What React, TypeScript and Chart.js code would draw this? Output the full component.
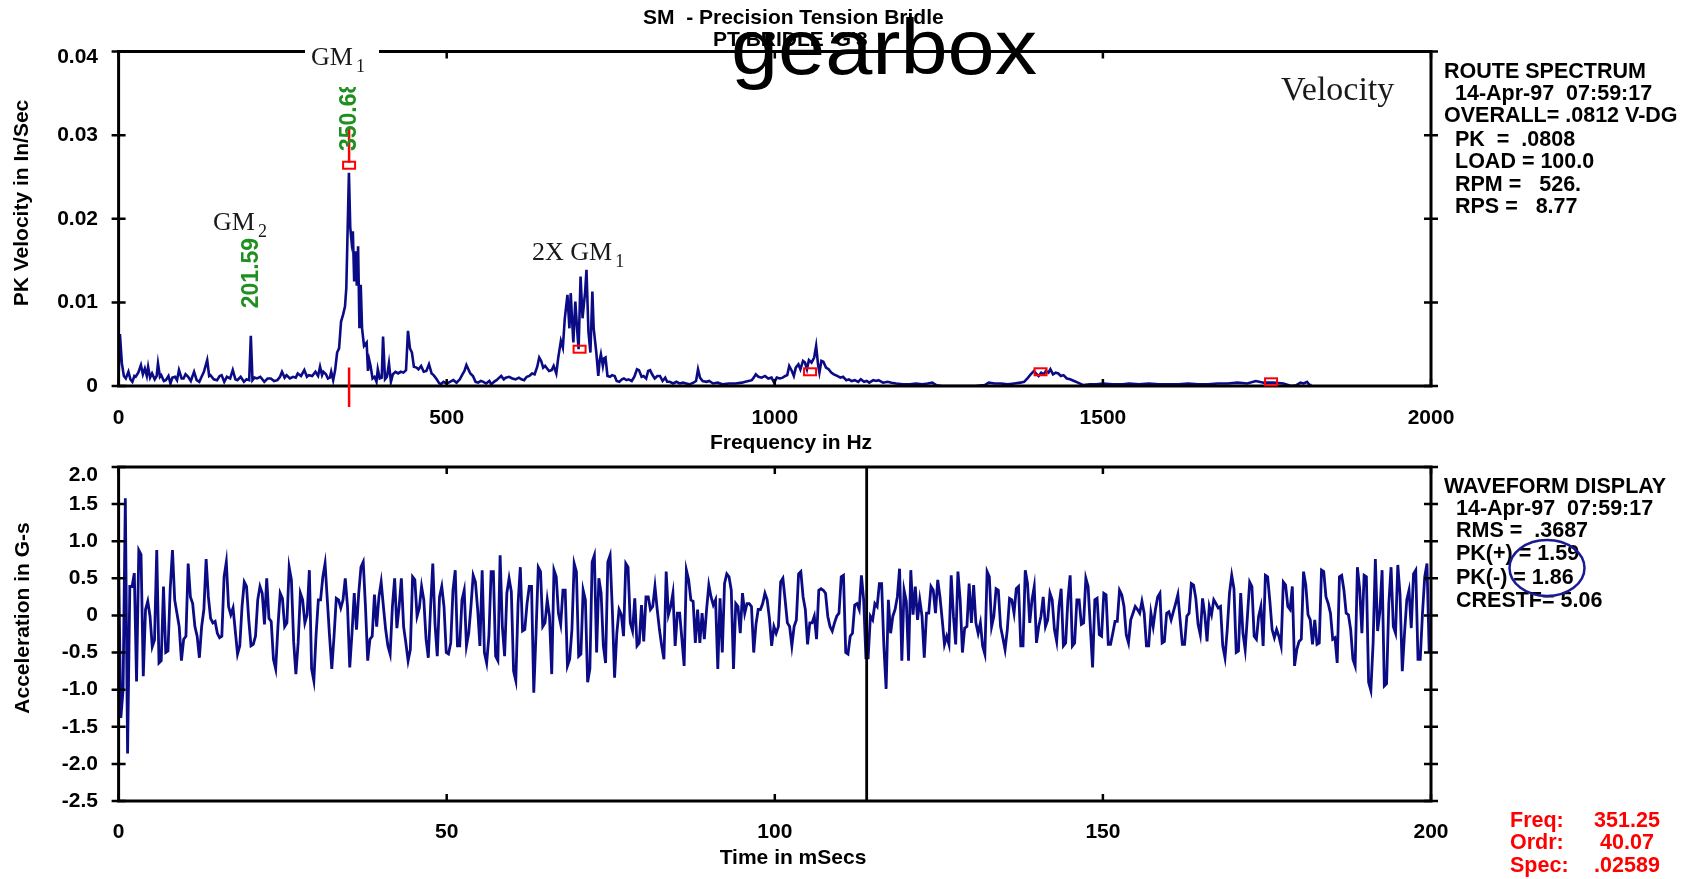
import React, { useEffect, useRef } from 'react';
import { Chart, registerables } from 'chart.js';
Chart.register(...registerables);

// ---------------- data ----------------
const SPEC_FREQ = [
  0, 2, 5, 8, 11, 15, 18, 21, 24, 26, 30, 34, 37, 40, 43, 45, 48, 51, 55, 58,
  60, 63, 65, 69, 72, 76, 79, 82, 86, 89, 92, 96, 99, 102, 106, 110, 115, 119, 123, 127,
  130, 135, 138, 140, 145, 150, 154, 157, 161, 165, 170, 174, 178, 181, 186, 191, 195, 199, 201.5, 204,
  207, 211, 216, 222, 227, 232, 237, 242, 246, 249, 253, 256, 261, 266, 270, 273, 278, 283, 287, 290,
  295, 300, 304, 307, 310, 312, 316, 319, 322, 324, 327, 330, 333, 336, 339, 342, 345, 347, 351, 353,
  355, 357, 359, 361, 363, 365, 367, 369, 371, 374, 376, 378, 380, 382, 384, 387, 390, 393, 395, 398,
  401, 403, 406, 409, 412, 415, 418, 422, 426, 430, 434, 438, 441, 444, 447, 450, 454, 457, 461, 465,
  469, 473, 477, 480, 484, 488, 491, 495, 500, 505, 510, 515, 520, 524, 527, 530, 533, 536, 540, 544,
  548, 552, 556, 560, 565, 568, 572, 576, 580, 583, 587, 590, 595, 600, 605, 610, 614, 618, 622, 626,
  630, 634, 638, 641, 644, 647, 650, 653, 656, 660, 663, 667, 670, 674, 677, 680, 684, 687, 689, 691,
  693, 696, 699, 701, 704, 707, 711, 713, 716, 719, 722, 724, 728, 731, 733, 735, 738, 740, 742, 745,
  749, 752, 756, 759, 763, 767, 770, 774, 777, 782, 786, 790, 793, 797, 800, 804, 807, 810, 813, 817,
  821, 825, 829, 833, 836, 840, 845, 850, 855, 860, 865, 870, 876, 880, 883, 886, 890, 896, 900, 906,
  913, 920, 930, 940, 950, 955, 960, 965, 968, 971, 975, 980, 985, 990, 995, 999, 1003, 1008, 1012, 1016,
  1019, 1022, 1026, 1029, 1032, 1036, 1039, 1043, 1046, 1049, 1052, 1056, 1060, 1063, 1066, 1068, 1071, 1074, 1078, 1082,
  1086, 1090, 1095, 1100, 1104, 1109, 1113, 1117, 1122, 1127, 1131, 1136, 1140, 1144, 1150, 1155, 1158, 1165, 1172, 1178,
  1185, 1195, 1206, 1215, 1225, 1233, 1240, 1246, 1255, 1270, 1290, 1305, 1320, 1326, 1335, 1345, 1355, 1365, 1374, 1380,
  1386, 1390, 1395, 1398, 1402, 1406, 1410, 1413, 1417, 1420, 1424, 1428, 1432, 1436, 1440, 1445, 1450, 1456, 1462, 1470,
  1480, 1490, 1500, 1515, 1530, 1540, 1555, 1570, 1585, 1600, 1615, 1630, 1645, 1660, 1675, 1690, 1705, 1720, 1733, 1745,
  1760, 1775, 1787, 1795, 1801, 1806, 1811, 1815, 1818,
];
const SPEC_VEL = [
  0.0012, 0.0062, 0.0027, 0.0012, 0.0009, 0.0017, 0.0008, 0.0005, 0.0012, 0.0011, 0.0016, 0.0025, 0.0014, 0.0021, 0.0012, 0.0023, 0.0010, 0.0015, 0.0008, 0.0012,
  0.0027, 0.0011, 0.0013, 0.0006, 0.0007, 0.0012, 0.0003, 0.0010, 0.0011, 0.0007, 0.0019, 0.0009, 0.0009, 0.0014, 0.0011, 0.0006, 0.0017, 0.0007, 0.0005, 0.0012,
  0.0017, 0.0031, 0.0012, 0.0013, 0.0008, 0.0007, 0.0012, 0.0013, 0.0005, 0.0011, 0.0009, 0.0019, 0.0008, 0.0007, 0.0011, 0.0005, 0.0008, 0.0007, 0.0060, 0.0007,
  0.0010, 0.0009, 0.0011, 0.0005, 0.0009, 0.0009, 0.0006, 0.0007, 0.0011, 0.0017, 0.0010, 0.0013, 0.0009, 0.0011, 0.0010, 0.0015, 0.0012, 0.0019, 0.0011, 0.0013,
  0.0012, 0.0017, 0.0012, 0.0023, 0.0013, 0.0017, 0.0014, 0.0009, 0.0010, 0.0017, 0.0007, 0.0019, 0.0040, 0.0045, 0.0077, 0.0085, 0.0095, 0.0117, 0.0255, 0.0190,
  0.0173, 0.0185, 0.0125, 0.0161, 0.0120, 0.0167, 0.0069, 0.0121, 0.0069, 0.0048, 0.0050, 0.0052, 0.0018, 0.0031, 0.0024, 0.0009, 0.0011, 0.0005, 0.0020, 0.0009,
  0.0010, 0.0059, 0.0008, 0.0011, 0.0027, 0.0005, 0.0014, 0.0017, 0.0015, 0.0017, 0.0016, 0.0019, 0.0066, 0.0045, 0.0040, 0.0023, 0.0022, 0.0020, 0.0024, 0.0017,
  0.0018, 0.0026, 0.0015, 0.0013, 0.0009, 0.0004, 0.0002, 0.0005, 0.0003, 0.0005, 0.0007, 0.0004, 0.0008, 0.0014, 0.0018, 0.0025, 0.0020, 0.0015, 0.0012, 0.0005,
  0.0004, 0.0006, 0.0005, 0.0003, 0.0006, 0.0002, 0.0005, 0.0007, 0.0010, 0.0012, 0.0008, 0.0010, 0.0011, 0.0009, 0.0008, 0.0010, 0.0008, 0.0007, 0.0011, 0.0012,
  0.0015, 0.0014, 0.0023, 0.0034, 0.0030, 0.0022, 0.0024, 0.0021, 0.0018, 0.0019, 0.0024, 0.0015, 0.0034, 0.0054, 0.0046, 0.0081, 0.0109, 0.0069, 0.0111, 0.0080,
  0.0052, 0.0101, 0.0065, 0.0044, 0.0131, 0.0081, 0.0113, 0.0139, 0.0065, 0.0040, 0.0113, 0.0069, 0.0040, 0.0012, 0.0030, 0.0038, 0.0024, 0.0033, 0.0034, 0.0012,
  0.0011, 0.0013, 0.0012, 0.0006, 0.0005, 0.0008, 0.0009, 0.0007, 0.0008, 0.0006, 0.0011, 0.0020, 0.0019, 0.0011, 0.0012, 0.0009, 0.0018, 0.0019, 0.0014, 0.0009,
  0.0012, 0.0012, 0.0006, 0.0010, 0.0005, 0.0005, 0.0003, 0.0005, 0.0003, 0.0004, 0.0003, 0.0002, 0.0004, 0.0006, 0.0020, 0.0010, 0.0006, 0.0005, 0.0006, 0.0003,
  0.0004, 0.0002, 0.0003, 0.0003, 0.0004, 0.0005, 0.0006, 0.0007, 0.0010, 0.0014, 0.0011, 0.0010, 0.0012, 0.0009, 0.0010, 0.0004, 0.0010, 0.0009, 0.0010, 0.0012,
  0.0013, 0.0024, 0.0018, 0.0012, 0.0022, 0.0026, 0.0020, 0.0030, 0.0028, 0.0020, 0.0031, 0.0028, 0.0034, 0.0048, 0.0025, 0.0016, 0.0030, 0.0029, 0.0022, 0.0020,
  0.0016, 0.0014, 0.0012, 0.0010, 0.0011, 0.0007, 0.0008, 0.0006, 0.0007, 0.0005, 0.0008, 0.0005, 0.0006, 0.0004, 0.0007, 0.0006, 0.0007, 0.0004, 0.0005, 0.0004,
  0.0003, 0.0002, 0.0002, 0.0003, 0.0002, 0.0003, 0.0004, 0.0001, 0.0000, 0.0000, 0.0000, 0.0000, 0.0001, 0.0004, 0.0003, 0.0003, 0.0002, 0.0003, 0.0004, 0.0005,
  0.0010, 0.0014, 0.0018, 0.0015, 0.0012, 0.0016, 0.0014, 0.0018, 0.0016, 0.0020, 0.0014, 0.0016, 0.0015, 0.0012, 0.0013, 0.0009, 0.0008, 0.0006, 0.0004, 0.0001,
  0.0002, 0.0002, 0.0003, 0.0002, 0.0002, 0.0003, 0.0002, 0.0003, 0.0002, 0.0002, 0.0002, 0.0003, 0.0002, 0.0002, 0.0003, 0.0003, 0.0004, 0.0003, 0.0006, 0.0004,
  0.0004, 0.0003, 0.0000, 0.0001, 0.0004, 0.0003, 0.0005, 0.0001, 0.0001,
];

// harmonic markers of the cursor frequency
const HARMONIC_FREQ = [351.25, 702.5, 1053.75, 1405, 1756.25];
const HARMONIC_LEVEL = [0.0264, 0.0044, 0.0017, 0.0017, 0.0005];
const CURSOR_FREQ = 351.25;
const CURSOR_UPPER = [0.0267, 0.0308];
const CURSOR_LOWER = [0.0022, -0.0025];
const PEAK_FREQ = [201.59, 350.68];
const PEAK_TEXT = ['201.59', '350.68'];
const PEAK_BASE = [0.0093, 0.0281];

// waveform (G-s), sampled every SAMPLE_MS
const SAMPLE_MS = 0.342;
const WAVE_A = [
  0.68, -1.38, -1.00, 1.58, -1.86, 0.39, 0.39, 0.57, -0.89, 0.88,
  0.82, -0.82, 0.08, 0.19, -0.01, -0.42, -0.33,
  0.88, -0.64, -0.61, 0.39, -0.50, -0.48, 0.36, 0.88, 0.21, 0.03,
  -0.15, -0.61, -0.32, -0.28, 0.70, 0.25, 0.16, -0.15, -0.28, -0.57,
  -0.15, 0.08, 0.76, 0.25, -0.04, -0.10, -0.08, -0.24, -0.30, -0.28,
  0.52, 0.72, 0.12, 0.01, 0.10, -0.21, -0.52, -0.41, 0.12, 0.45,
  0.39, -0.06, -0.41, -0.39, -0.28, 0.21, 0.39, 0.30, -0.12, 0.50,
  -0.04, -0.08, -0.59, -0.72, -0.15, 0.30, 0.23, -0.15, -0.10, 0.65,
  0.48, -0.35, -0.79, -0.37, 0.30, 0.21, -0.10, 0.01, 0.61, -0.72,
  -0.88, -0.26, 0.21, 0.21, 0.52, 0.70, 0.21, -0.28, -0.72, -0.28,
  0.23, 0.21, 0.10, 0.21, 0.50, 0.12, -0.70, -0.24, 0.30, -0.19,
  0.30, 0.65, 0.72, 0.12, -0.61, -0.32, -0.28, 0.28, -0.15, 0.25,
  0.45, 0.12, -0.19, -0.41, -0.52, 0.12, 0.50, -0.17, 0.12, 0.50,
  -0.15, -0.37, -0.61, -0.46, 0.52, 0.48, -0.01, 0.10, 0.39, 0.21,
  -0.32, -0.57, 0.10, 0.70, -0.12, -0.55, 0.25, 0.39, 0.12, -0.50,
  -0.52, -0.37, 0.34, 0.61, -0.41, -0.41, 0.21, 0.34, -0.41, -0.24,
  0.12, 0.54, 0.45, 0.08, -0.41, 0.61, -0.50, -0.64, -0.28, 0.59,
  0.59, -0.55, -0.61, 0.81, -0.15, -0.55, 0.30, 0.50, 0.32, -0.75,
  -0.88, 0.16, 0.65, -0.21, -0.19, 0.16, 0.39, 0.39, -1.04, -0.24,
  0.65, 0.59, -0.15, -0.10, 0.21, -0.01, -0.79, 0.61,
];
const WAVE_B = [
  0.52, 0.03, -0.12, 0.34, 0.34, -0.68, -0.59, -0.19, 0.70, 0.59,
  -0.55, -0.52, 0.34, 0.21, -0.90, -0.72, 0.72, 0.81, -0.50, 0.50,
  0.30, -0.41, -0.64, 0.72, 0.81, 0.08, -0.84, -0.24, 0.08, 0.01,
  -0.28, 0.70, 0.65, -0.10, -0.21, 0.23, -0.41, -0.37, 0.14, -0.35,
  0.25, 0.25, 0.08, 0.12, 0.39, 0.08, -0.19, -0.41, -0.59, 0.59,
  0.01, 0.12, 0.30, -0.41, 0.03, 0.03, -0.32, -0.68, 0.61, 0.48,
  0.21, 0.19, -0.37, 0.08, -0.37, 0.03, -0.32, 0.08, 0.41, 0.25,
  0.14, 0.21, -0.72, 0.23, -0.50, 0.43, 0.56, 0.52, 0.34, -0.72,
  0.16, 0.12, -0.24, 0.30, 0.03, 0.16, 0.16, 0.12, -0.50, -0.12,
  0.08, 0.08, 0.16, 0.30, 0.21, -0.04, -0.41, -0.15, -0.24, -0.15,
  0.45, 0.50, 0.21, -0.10, -0.15, -0.41, -0.15, -0.06, 0.56, 0.59,
  0.25, 0.08, -0.39, -0.10, -0.10, -0.01, -0.32, 0.34, 0.36, 0.34,
  0.30, -0.01, -0.15, -0.21, -0.10, -0.01, 0.03, 0.52, 0.54, -0.50,
  -0.52, -0.28, -0.24, 0.14, 0.16, 0.08, 0.54, 0.21, -0.57, -0.57,
  -0.01, -0.06, 0.16, 0.12, 0.43, 0.43, -0.41, -0.99, 0.21, -0.24,
  -0.01, 0.08, 0.25, 0.63, -0.61, 0.34, 0.19, -0.61, 0.61, 0.01,
  0.39, -0.06, 0.21, -0.01, -0.57, 0.03, 0.03, 0.39, 0.34, 0.03,
  0.48, 0.25, -0.06, -0.39, -0.28, -0.39, 0.54, -0.01, -0.39, 0.59,
  0.21, -0.50, -0.17, -0.15, 0.43, -0.10, 0.41, -0.10, -0.24, -0.10,
  -0.41, -0.52, 0.59, 0.52, -0.15, -0.01, 0.36, 0.34, -0.15, -0.30,
  -0.46, -0.19, 0.23,
];
const WAVE_C = [
  0.21, 0.03, 0.36, 0.39, -0.41, -0.41, 0.61, 0.43, -0.10, 0.21,
  0.39, -0.37, -0.15, -0.01, 0.25, -0.15, -0.06, 0.30, 0.21, -0.19,
  -0.35, 0.12, 0.36, -0.41, -0.37, 0.21, 0.54, -0.41, -0.37, 0.21,
  0.21, -0.12, -0.10, 0.50, 0.39, -0.15, -0.70, 0.21, 0.23, -0.26,
  -0.28, 0.30, 0.28, -0.39, -0.39, -0.24, -0.08, -0.08, 0.34, 0.28,
  0.12, -0.26, -0.37, -0.06, 0.03, 0.12, 0.08, 0.03, 0.19, 0.03,
  -0.41, -0.41, 0.03, -0.15, 0.08, 0.25, 0.30, -0.37, -0.35, 0.03,
  0.05, -0.06, 0.05, 0.16, 0.28, -0.06, -0.39, -0.39, -0.01, 0.03,
  0.43, 0.41, 0.23, -0.12, -0.26, 0.23, 0.01, -0.35, 0.12, 0.01,
  0.21, 0.16, 0.10, 0.12, -0.41, -0.57, -0.19, 0.30, 0.54, 0.36,
  -0.50, -0.48, 0.30, -0.24, -0.46, -0.01, 0.45, 0.39, -0.28, -0.32,
  -0.01, 0.12, -0.41, 0.54, 0.52, 0.19, -0.19, -0.30, -0.19, -0.28,
  -0.41, 0.45, 0.41, 0.12, 0.08, 0.39, -0.68, -0.46, -0.35, -0.32,
  0.59, 0.41, 0.01, -0.06, -0.39, -0.06, -0.39, -0.37, 0.61, 0.59,
  0.25, 0.16, 0.03, -0.32, -0.30, -0.64, 0.52, 0.54, 0.34, 0.03,
  0.01, -0.19, -0.59, -0.68, 0.65, 0.36, -0.24, 0.54, 0.52, -0.90,
  -1.01, -0.37, 0.76, -0.21, 0.05, 0.61, -0.95, -0.92, 0.16, 0.65,
  -0.15, -0.24, 0.68, 0.28, -0.75, -0.24, 0.21, 0.34, -0.17, 0.56,
  0.61, -0.59, -0.59, 0.03, 0.52, 0.70, -0.50,
];
const WAVE_CURSOR_MS = 114;

const SPECTRUM_INFO = ['ROUTE SPECTRUM', '14-Apr-97  07:59:17', 'OVERALL= .0812 V-DG', 'PK  =  .0808', 'LOAD = 100.0', 'RPM =   526.', 'RPS =   8.77'];
const WAVE_INFO = ['WAVEFORM DISPLAY', '14-Apr-97  07:59:17', 'RMS =  .3687', 'PK(+) = 1.59', 'PK(-) = 1.86', 'CRESTF= 5.06'];
const CURSOR_LABELS = ['Freq:', 'Ordr:', 'Spec:'];
const CURSOR_VALUES = ['351.25', '40.07', '.02589'];

// ---------------- styling helpers ----------------
const SANS = '"Liberation Sans", Arial, sans-serif';
const SERIF = '"Liberation Serif", "Times New Roman", serif';
const NAVY = '#0b0b86';
const RED = '#ff0000';
const GREEN = '#1f8f1f';
const W = 1690;
const H = 879;

function txt(ctx: any, s: string, x: number, y: number, font: string, color: string, align = 'left', baseline = 'middle') {
  ctx.save();
  ctx.font = font;
  ctx.fillStyle = color;
  ctx.textAlign = align;
  ctx.textBaseline = baseline;
  ctx.fillText(s, x, y);
  ctx.restore();
}

function rotTxt(ctx: any, s: string, x: number, y: number, font: string, color: string, align = 'center') {
  ctx.save();
  ctx.translate(x, y);
  ctx.rotate(-Math.PI / 2);
  ctx.font = font;
  ctx.fillStyle = color;
  ctx.textAlign = align;
  ctx.textBaseline = 'middle';
  ctx.fillText(s, 0, 0);
  ctx.restore();
}

function drawFrame(ctx: any, a: any, xs: any, ys: any) {
  ctx.save();
  ctx.strokeStyle = '#000';
  ctx.lineWidth = 3;
  ctx.strokeRect(a.left, a.top, a.right - a.left, a.bottom - a.top);
  ctx.lineWidth = 2.5;
  ctx.beginPath();
  for (const t of ys.ticks) {
    const py = ys.getPixelForValue(t.value);
    ctx.moveTo(a.left - 7, py); ctx.lineTo(a.left + 7, py);
    ctx.moveTo(a.right - 7, py); ctx.lineTo(a.right + 7, py);
  }
  for (const t of xs.ticks) {
    const px = xs.getPixelForValue(t.value);
    ctx.moveTo(px, a.top); ctx.lineTo(px, a.top + 7);
    ctx.moveTo(px, a.bottom); ctx.lineTo(px, a.bottom - 7);
  }
  ctx.stroke();
  ctx.restore();
}

function gmLabel(ctx: any, main: string, sub: string, x: number, baseline: number) {
  ctx.save();
  ctx.font = `26px ${SERIF}`;
  ctx.fillStyle = '#1a1a1a';
  ctx.textBaseline = 'alphabetic';
  ctx.textAlign = 'left';
  ctx.fillText(main, x, baseline);
  const w = ctx.measureText(main).width;
  ctx.font = `18px ${SERIF}`;
  ctx.fillText(sub, x + w + 3, baseline + 7);
  ctx.restore();
}

// the topmost y tick label sits a little below its tick in the reference
function nudgeTopLabel(dy: number) {
  return {
    id: 'nudgeTopLabel',
    beforeDraw(chart: any) {
      const items = chart.scales.y.getLabelItems(chart.chartArea);
      let top: any = null;
      for (const it of items) {
        if (!top || it.options.translation[1] < top.options.translation[1]) top = it;
      }
      if (top && !top._nudged) {
        top.options.translation[1] += dy;
        top._nudged = true;
      }
    },
  };
}

const TICK_FONT = { family: SANS, size: 21, weight: 'bold' as const };
const BOLD = `bold 21px ${SANS}`;
const INFO = `bold 21.5px ${SANS}`;

const topDecor = {
  id: 'topDecor',
  afterDraw(chart: any) {
    const { ctx, chartArea: a, scales } = chart;
    const xs = scales.x, ys = scales.y;
    drawFrame(ctx, a, xs, ys);

    // cursor and harmonic markers
    ctx.save();
    ctx.strokeStyle = RED;
    ctx.lineWidth = 2.5;
    const cx = xs.getPixelForValue(CURSOR_FREQ);
    ctx.beginPath();
    ctx.moveTo(cx, ys.getPixelForValue(CURSOR_UPPER[0]));
    ctx.lineTo(cx, ys.getPixelForValue(CURSOR_UPPER[1]));
    ctx.moveTo(cx, ys.getPixelForValue(CURSOR_LOWER[0]));
    ctx.lineTo(cx, ys.getPixelForValue(CURSOR_LOWER[1]));
    ctx.stroke();
    ctx.lineWidth = 2;
    HARMONIC_FREQ.forEach((f, i) => {
      const px = xs.getPixelForValue(f);
      const py = ys.getPixelForValue(HARMONIC_LEVEL[i]);
      ctx.strokeRect(px - 6, py - 3.5, 12, 7);
    });
    ctx.restore();

    // green peak frequency labels
    PEAK_FREQ.forEach((f, i) => {
      rotTxt(ctx, PEAK_TEXT[i], xs.getPixelForValue(f) + 1, ys.getPixelForValue(PEAK_BASE[i]), `bold 23px ${SANS}`, GREEN, 'left');
    });

    gmLabel(ctx, 'GM', '2', 213, 230);
    gmLabel(ctx, '2X GM', '1', 532, 260);
    // GM1 label with white background over the frame
    ctx.save();
    ctx.fillStyle = '#fff';
    ctx.fillRect(305, 38, 74, 49);
    ctx.restore();
    gmLabel(ctx, 'GM', '1', 311, 65);

    txt(ctx, 'Velocity', 1281, 100, `34px ${SERIF}`, '#1a1a1a', 'left', 'alphabetic');

    // axis titles
    rotTxt(ctx, 'PK Velocity in In/Sec', 22, 203, BOLD, '#000');
    txt(ctx, 'Frequency in Hz', 791, 443, BOLD, '#000', 'center');

    // info panel
    const ys0 = [72, 94, 116, 140, 162, 185, 207];
    SPECTRUM_INFO.forEach((s, i) => {
      const indent = i === 0 || i === 2 ? 1444 : 1455;
      txt(ctx, s, indent, ys0[i], INFO, '#000');
    });

    // titles
    txt(ctx, 'SM  - Precision Tension Bridle', 643, 18, `bold 21px ${SANS}`, '#000');
    txt(ctx, "PT BRIDLE 'G'3", 713, 40, `bold 21px ${SANS}`, '#000');

    ctx.save();
    ctx.font = `78px ${SANS}`;
    ctx.fillStyle = '#000';
    ctx.textBaseline = 'alphabetic';
    ctx.textAlign = 'center';
    const w = ctx.measureText('gearbox').width;
    ctx.translate(884, 74);
    ctx.scale(306 / w, 1);
    ctx.fillText('gearbox', 0, 0);
    ctx.restore();
  },
};

const bottomDecor = {
  id: 'bottomDecor',
  afterDraw(chart: any) {
    const { ctx, chartArea: a, scales } = chart;
    const xs = scales.x, ys = scales.y;
    drawFrame(ctx, a, xs, ys);
    ctx.save();
    ctx.strokeStyle = '#000';
    ctx.lineWidth = 2.8;
    const cx = xs.getPixelForValue(WAVE_CURSOR_MS);
    ctx.beginPath();
    ctx.moveTo(cx, a.top);
    ctx.lineTo(cx, a.bottom);
    ctx.stroke();
    ctx.restore();

    rotTxt(ctx, 'Acceleration in G-s', 23, 618, BOLD, '#000');
    txt(ctx, 'Time in mSecs', 793, 858, BOLD, '#000', 'center');

    const ys0 = [487, 509, 531, 554, 578, 601];
    WAVE_INFO.forEach((s, i) => {
      txt(ctx, s, i === 0 ? 1444 : 1456, ys0[i], INFO, '#000');
    });

    ctx.save();
    ctx.strokeStyle = '#1a1a96';
    ctx.lineWidth = 2.5;
    ctx.beginPath();
    ctx.ellipse(1547, 568, 37.5, 28, 0, 0, Math.PI * 2);
    ctx.stroke();
    ctx.restore();

    const ry = [821, 843, 866];
    CURSOR_LABELS.forEach((s, i) => {
      txt(ctx, s, 1510, ry[i], INFO, RED);
      txt(ctx, CURSOR_VALUES[i], 1627, ry[i], INFO, RED, 'center');
    });
  },
};

export default function App() {
  const topRef = useRef<HTMLCanvasElement>(null);
  const botRef = useRef<HTMLCanvasElement>(null);

  useEffect(() => {
    const spectrum = SPEC_FREQ.map((f, i) => ({ x: f, y: SPEC_VEL[i] }));
    const waveVals = [...WAVE_A, ...WAVE_B, ...WAVE_C];
    const wave = waveVals.map((v, i) => ({ x: i * SAMPLE_MS, y: v }));

    const c1 = new Chart(topRef.current as HTMLCanvasElement, {
      type: 'line',
      data: {
        datasets: [{
          data: spectrum,
          borderColor: NAVY,
          borderWidth: 2.6,
          pointRadius: 0,
          fill: false,
          tension: 0,
        }],
      },
      options: {
        responsive: false,
        animation: false,
        devicePixelRatio: 1,
        events: [],
        layout: { padding: { left: 0, top: 51.5, right: 259, bottom: 0 } },
        plugins: { legend: { display: false }, tooltip: { enabled: false } },
        scales: {
          x: {
            type: 'linear', min: 0, max: 2000,
            grid: { display: false, drawTicks: false }, border: { display: false },
            ticks: { stepSize: 500, padding: 19.4, font: TICK_FONT, color: '#000', maxRotation: 0, autoSkip: false, callback: (v: any) => String(v) },
            afterFit: (s: any) => { s.height = H - 386; },
          },
          y: {
            type: 'linear', min: 0, max: 0.04,
            grid: { display: false, drawTicks: false }, border: { display: false },
            ticks: { stepSize: 0.01, padding: 20.6, font: TICK_FONT, color: '#000', callback: (v: any) => (Math.abs(v) < 1e-9 ? '0' : Number(v).toFixed(2)) },
            afterFit: (s: any) => { s.width = 118.6; },
          },
        },
      } as any,
      plugins: [nudgeTopLabel(6), topDecor],
    });

    const c2 = new Chart(botRef.current as HTMLCanvasElement, {
      type: 'line',
      data: {
        datasets: [{
          data: wave,
          borderColor: NAVY,
          borderWidth: 2.8,
          pointRadius: 0,
          fill: false,
          tension: 0,
        }],
      },
      options: {
        responsive: false,
        animation: false,
        devicePixelRatio: 1,
        events: [],
        layout: { padding: { left: 0, top: 467, right: 259, bottom: 0 } },
        plugins: { legend: { display: false }, tooltip: { enabled: false } },
        scales: {
          x: {
            type: 'linear', min: 0, max: 200,
            grid: { display: false, drawTicks: false }, border: { display: false },
            ticks: { stepSize: 50, padding: 18.4, font: TICK_FONT, color: '#000', maxRotation: 0, autoSkip: false, callback: (v: any) => String(v) },
            afterFit: (s: any) => { s.height = H - 801; },
          },
          y: {
            type: 'linear', min: -2.5, max: 2.0,
            grid: { display: false, drawTicks: false }, border: { display: false },
            ticks: { stepSize: 0.5, padding: 20.6, font: TICK_FONT, color: '#000', callback: (v: any) => (Math.abs(v) < 1e-9 ? '0' : Number(v).toFixed(1)) },
            afterFit: (s: any) => { s.width = 118.6; },
          },
        },
      } as any,
      plugins: [nudgeTopLabel(8), bottomDecor],
    });

    return () => { c1.destroy(); c2.destroy(); };
  }, []);

  return (
    <div style={{ position: 'absolute', left: 0, top: 0, width: W, height: H, background: '#fff', overflow: 'hidden' }}>
      <canvas ref={topRef} width={W} height={H} style={{ position: 'absolute', left: 0, top: 0, width: W, height: H }} />
      <canvas ref={botRef} width={W} height={H} style={{ position: 'absolute', left: 0, top: 0, width: W, height: H }} />
    </div>
  );
}
